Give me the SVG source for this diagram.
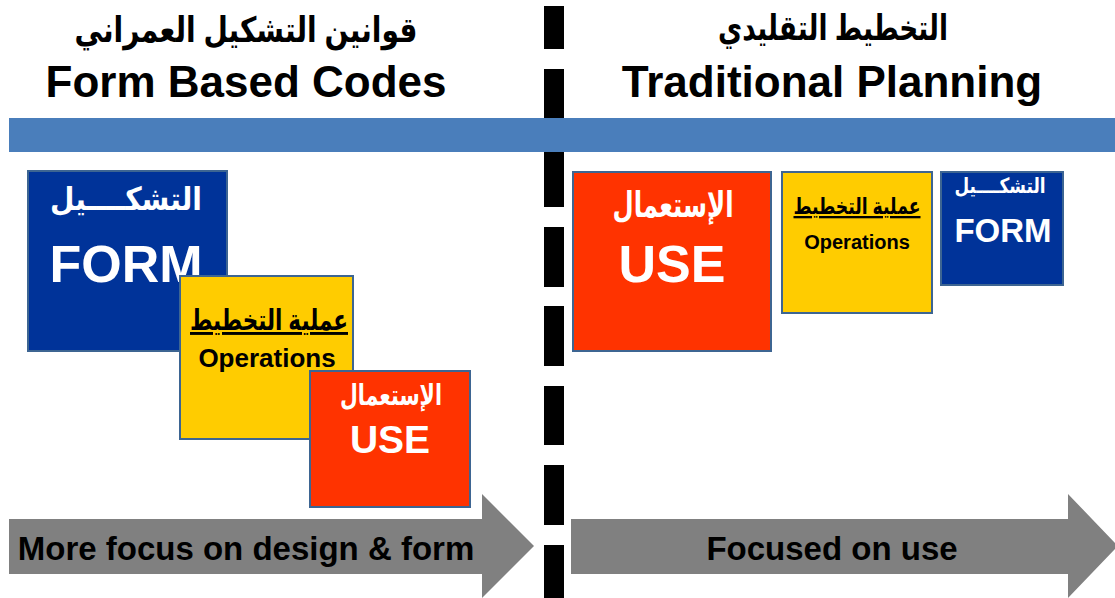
<svg xmlns="http://www.w3.org/2000/svg" width="1115" height="598" viewBox="0 0 1115 598">
<style>
text{font-family:"Liberation Sans","DejaVu Sans",Arial,sans-serif;font-weight:bold;text-anchor:middle}
.t{fill:#000}
.w{fill:#fff}
.box{stroke:#3d6592;stroke-width:2}
.blue{fill:#003399}
.yel{fill:#ffcc00}
.red{fill:#ff3300}
.arrow{fill:#808080}
.dash{fill:#000}
</style>
<rect width="1115" height="598" fill="#fff"/>
<g id="divider">
<rect class="dash" x="544" y="6" width="20" height="43"/>
<rect class="dash" x="544" y="69" width="20" height="138"/>
<rect class="dash" x="544" y="227" width="20" height="60"/>
<rect class="dash" x="544" y="306" width="20" height="60"/>
<rect class="dash" x="544" y="386" width="20" height="59"/>
<rect class="dash" x="544" y="465" width="20" height="60"/>
<rect class="dash" x="544" y="545" width="20" height="53"/>
</g>
<g id="bar">
<rect x="9" y="118" width="1106" height="34" fill="#4a7ebb"/>
</g>
<g id="title-left">
<text class="t" x="246" y="42" font-size="35" textLength="343" lengthAdjust="spacingAndGlyphs">قوانين التشكيل العمراني</text>
<text class="t" x="246" y="97" font-size="44">Form Based Codes</text>
</g>
<g id="title-right">
<text class="t" x="833" y="40" font-size="35" textLength="230" lengthAdjust="spacingAndGlyphs">التخطيط التقليدي</text>
<text class="t" x="832" y="97" font-size="44">Traditional Planning</text>
</g>
<g id="left-form">
<rect class="box blue" x="28" y="171" width="199" height="180"/>
<text class="w" x="126" y="210" font-size="32" textLength="152" lengthAdjust="spacingAndGlyphs">التشكــــيل</text>
<text class="w" x="126" y="282" font-size="52">FORM</text>
</g>
<g id="left-operations">
<rect class="box yel" x="180" y="276" width="173" height="163"/>
<text class="t" x="269" y="330" font-size="29" text-decoration="underline" textLength="158" lengthAdjust="spacingAndGlyphs">عملية التخطيط</text>
<text class="t" x="267" y="367" font-size="26">Operations</text>
</g>
<g id="left-use">
<rect class="box red" x="310" y="371" width="160" height="136"/>
<text class="w" x="391" y="405" font-size="29" textLength="102" lengthAdjust="spacingAndGlyphs">الإستعمال</text>
<text class="w" x="390" y="453" font-size="39">USE</text>
</g>
<g id="right-use">
<rect class="box red" x="573" y="172" width="198" height="179"/>
<text class="w" x="673" y="217" font-size="35" textLength="121" lengthAdjust="spacingAndGlyphs">الإستعمال</text>
<text class="w" x="672" y="282" font-size="52">USE</text>
</g>
<g id="right-operations">
<rect class="box yel" x="782" y="172" width="150" height="141"/>
<text class="t" x="857" y="214" font-size="23" text-decoration="underline" textLength="127" lengthAdjust="spacingAndGlyphs">عملية التخطيط</text>
<text class="t" x="857" y="249" font-size="20">Operations</text>
</g>
<g id="right-form">
<rect class="box blue" x="941" y="172" width="122" height="113"/>
<text class="w" x="1000" y="193" font-size="21" textLength="91" lengthAdjust="spacingAndGlyphs">التشكــــيل</text>
<text class="w" x="1003" y="242" font-size="33">FORM</text>
</g>
<g id="arrow-left">
<polygon class="arrow" points="9,519 482,519 482,494 534,546 482,598 482,574 9,574"/>
<text class="t" x="246" y="560" font-size="33">More focus on design &amp; form</text>
</g>
<g id="arrow-right">
<polygon class="arrow" points="571,519 1068,519 1068,494 1118,546 1068,598 1068,574 571,574"/>
<text class="t" x="832" y="560" font-size="33">Focused on use</text>
</g>
</svg>
